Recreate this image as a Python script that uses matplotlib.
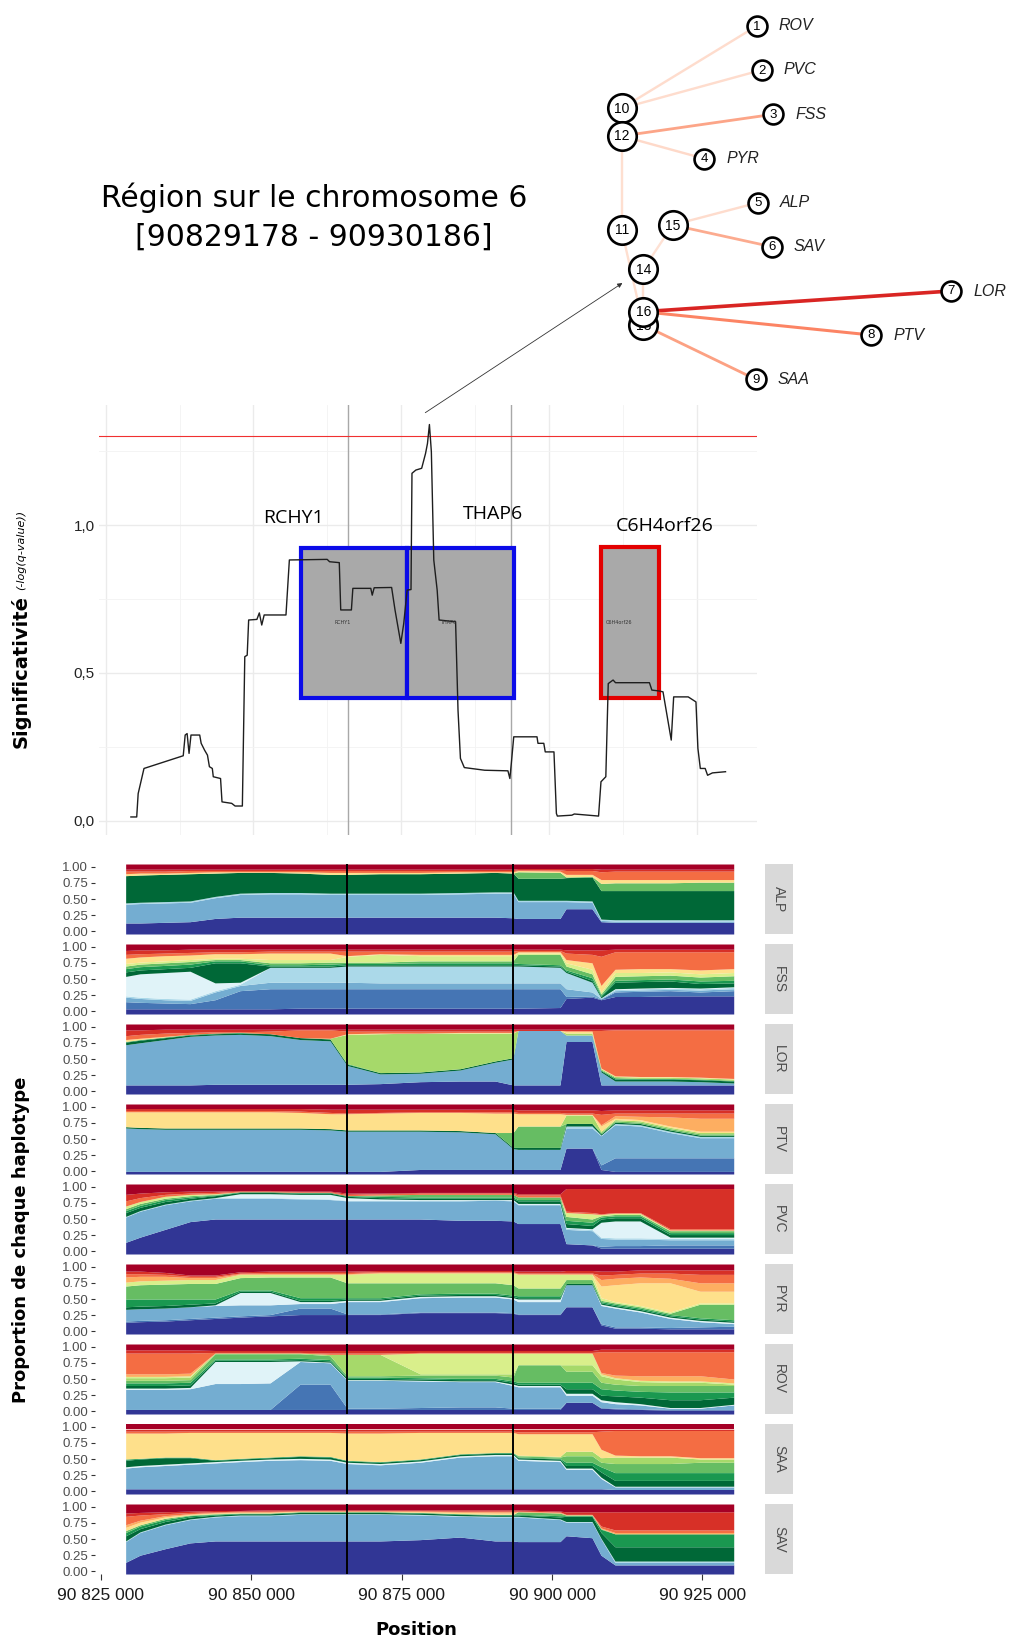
import numpy as np
import matplotlib
matplotlib.use("Agg")
import matplotlib.pyplot as plt
from matplotlib.patches import Rectangle, ConnectionPatch
from matplotlib import font_manager as fm

W, H = 1033, 1636
_avail = {f.name for f in fm.fontManager.ttflist}
NARROW = "Liberation Sans Narrow" if "Liberation Sans Narrow" in _avail else "Liberation Sans"

# ------------------------------------------------------------------ data
scan_pos = [90829262, 90830246, 90830492, 90831476, 90838115, 90838443, 90838771, 90839099,
            90839427, 90840902, 90841148, 90841722, 90842214, 90842542, 90843033, 90843197,
            90844427, 90844673, 90846312, 90846886, 90848116, 90848526, 90848935, 90849181,
            90850575, 90850985, 90851395, 90851804, 90855493, 90856067, 90862460, 90862870,
            90864510, 90864755, 90866559, 90866805, 90869838, 90870084, 90870412, 90873363,
            90873937, 90874921, 90875412, 90875986, 90876642, 90876806, 90877462, 90878446,
            90879100, 90879428, 90879756, 90880084, 90880494, 90881068, 90881396, 90884183,
            90884593, 90885003, 90885659, 90889101, 90893036, 90893364, 90893610, 90894020,
            90897954, 90898118, 90899102, 90899348, 90900823, 90901233, 90901397, 90903856,
            90904266, 90908365, 90908775, 90909594, 90910004, 90910824, 90911234, 90916972,
            90917382, 90918612, 90919268, 90920661, 90921071, 90923530, 90924841, 90925169,
            90925579, 90926399, 90926809, 90927629, 90929842]
scan_val = [0.013, 0.013, 0.092, 0.177, 0.220, 0.290, 0.295, 0.228,
            0.290, 0.290, 0.262, 0.239, 0.222, 0.183, 0.177, 0.149,
            0.143, 0.064, 0.059, 0.050, 0.050, 0.555, 0.560, 0.679,
            0.681, 0.703, 0.662, 0.696, 0.696, 0.882, 0.884, 0.876,
            0.873, 0.713, 0.713, 0.786, 0.786, 0.763, 0.788, 0.789,
            0.713, 0.600, 0.667, 0.780, 0.782, 1.175, 1.186, 1.192,
            1.242, 1.276, 1.340, 1.248, 0.882, 0.780, 0.679, 0.673,
            0.374, 0.211, 0.180, 0.171, 0.169, 0.143, 0.194, 0.284,
            0.284, 0.262, 0.262, 0.233, 0.233, 0.025, 0.016, 0.019,
            0.023, 0.016, 0.132, 0.149, 0.464, 0.476, 0.467, 0.467,
            0.442, 0.439, 0.436, 0.273, 0.419, 0.419, 0.402, 0.245,
            0.177, 0.177, 0.154, 0.162, 0.166]
threshold = 1.30103

genes = ["RCHY1", "THAP6", "C6H4orf26"]
gene_start = [90858119, 90875998, 90908779]
gene_end = [90875998, 90894029, 90918623]
gene_low = [0.414, 0.414, 0.414]
gene_high = [0.921, 0.921, 0.927]
gene_edge = ["#0B0BE8", "#0B0BE8", "#E30000"]
gene_label_pos = [90856682, 90890503, 90919537]
gene_label_val = [1.024, 1.037, 0.998]
gene_small_pos = [90865169, 90882899, 90911824]
gene_small_val = [0.672, 0.672, 0.672]
marker_lines = [90866000, 90893500]

region_start, region_end = 90829178, 90930186

knots = [90829178, 90831561, 90835714, 90839867, 90844020, 90848172, 90853156, 90858139,
         90863122, 90865946, 90871428, 90878072, 90884717, 90890530, 90893520, 90894351,
         90901328, 90902324, 90906643, 90908138, 90910464, 90914616, 90919600, 90924583,
         90930186]

layer_order = ["navy", "blue", "mblue", "lblue", "vlblue", "dgreen", "green", "mgreen",
               "lgreen", "ygreen", "yellow", "lorange", "orange", "red", "dred"]
layer_colors = ["#313695", "#4575B4", "#74ADD1", "#ABD9E9", "#E0F3F8", "#006837", "#1A9850",
                "#66BD63", "#A6D96A", "#D9EF8B", "#FEE08B", "#FDAE61", "#F46D43", "#D73027",
                "#A50026"]

populations = ["ALP", "FSS", "LOR", "PTV", "PVC", "PYR", "ROV", "SAA", "SAV"]

# cumulative upper edge (%) of each haplotype layer at every knot
ALP = {
    "navy":   [13, 13, 14, 15, 20, 22, 22, 22, 22, 22, 22, 22, 22, 22, 21, 20, 20, 35, 35, 15, 14, 14, 14, 14, 14],
    "mblue":  [42, 43, 44, 45, 52, 57, 58, 58, 57, 57, 57, 57, 58, 59, 59, 46, 46, 46, 45, 17, 16, 16, 16, 16, 16],
    "lblue":  [44, 45, 46, 47, 54, 59, 60, 60, 59, 59, 59, 59, 60, 61, 61, 48, 48, 48, 47, 19, 18, 18, 18, 18, 18],
    "dgreen": [86, 87, 88, 89, 90, 91, 91, 90, 88, 88, 89, 89, 90, 91, 90, 82, 82, 83, 84, 63, 63, 63, 63, 63, 63],
    "mgreen": [86, 87, 88, 89, 90, 91, 91, 90, 88, 88, 89, 89, 90, 91, 90, 92, 91, 84, 85, 74, 75, 75, 75, 76, 76],
    "yellow": [89, 90, 90, 91, 92, 92, 92, 92, 91, 91, 91, 91, 92, 92, 92, 94, 93, 88, 88, 80, 80, 80, 80, 80, 80],
    "orange": [93, 93, 93, 94, 94, 94, 94, 94, 94, 94, 94, 94, 94, 94, 94, 95, 95, 94, 94, 92, 93, 93, 93, 93, 93],
    "red":    [96, 96, 96, 96, 96, 96, 96, 96, 96, 96, 96, 96, 96, 96, 96, 97, 97, 97, 97, 96, 96, 96, 96, 96, 96],
}
FSS = {
    "navy":   [4, 4, 4, 4, 4, 4, 4, 5, 5, 5, 5, 5, 5, 5, 5, 5, 6, 20, 22, 18, 23, 23, 24, 24, 24],
    "blue":   [15, 14, 13, 12, 18, 32, 35, 35, 35, 35, 35, 35, 35, 35, 35, 35, 35, 23, 24, 19, 30, 31, 32, 30, 32],
    "mblue":  [22, 20, 18, 17, 30, 40, 45, 45, 45, 45, 44, 44, 44, 44, 44, 44, 44, 35, 30, 20, 32, 33, 34, 33, 35],
    "lblue":  [24, 22, 20, 19, 32, 42, 68, 68, 68, 70, 70, 70, 70, 70, 70, 70, 68, 60, 45, 21, 34, 35, 36, 35, 37],
    "vlblue": [54, 58, 60, 62, 44, 45, 68, 68, 68, 70, 70, 70, 70, 70, 70, 70, 68, 60, 45, 21, 35, 36, 37, 36, 38],
    "dgreen": [61, 64, 66, 68, 75, 75, 70, 70, 70, 72, 72, 72, 72, 72, 72, 72, 70, 62, 48, 23, 45, 46, 47, 43, 44],
    "green":  [66, 69, 71, 73, 78, 78, 72, 72, 73, 74, 74, 75, 75, 75, 75, 74, 72, 64, 52, 25, 48, 49, 50, 47, 48],
    "mgreen": [70, 73, 75, 77, 80, 80, 75, 75, 76, 76, 76, 78, 78, 78, 78, 88, 88, 70, 58, 27, 54, 55, 56, 53, 55],
    "ygreen": [74, 76, 78, 80, 82, 82, 80, 80, 80, 85, 88, 86, 86, 86, 86, 90, 90, 75, 65, 30, 60, 60, 61, 58, 60],
    "yellow": [82, 84, 86, 87, 89, 89, 90, 90, 90, 86, 89, 88, 88, 88, 88, 92, 92, 80, 75, 40, 65, 66, 66, 64, 66],
    "orange": [88, 89, 90, 91, 92, 92, 93, 93, 93, 93, 93, 93, 93, 93, 93, 94, 94, 90, 88, 85, 92, 92, 92, 92, 92],
    "red":    [94, 95, 95, 96, 96, 96, 96, 96, 96, 96, 96, 96, 96, 96, 96, 96, 96, 95, 95, 95, 96, 96, 96, 96, 96],
}
LOR = {
    "navy":   [10, 10, 10, 10, 11, 11, 11, 11, 11, 11, 12, 15, 16, 16, 10, 10, 10, 77, 77, 10, 10, 10, 10, 10, 10],
    "mblue":  [72, 75, 80, 85, 87, 88, 86, 80, 78, 40, 27, 28, 33, 45, 50, 94, 94, 87, 87, 30, 16, 16, 16, 15, 13],
    "dgreen": [76, 79, 83, 87, 89, 90, 89, 83, 81, 42, 29, 30, 35, 47, 52, 94, 94, 87, 87, 32, 19, 19, 19, 18, 16],
    "green":  [77, 80, 84, 88, 90, 91, 89, 83, 81, 43, 29, 30, 35, 47, 52, 94, 94, 87, 87, 33, 21, 20, 20, 19, 17],
    "lgreen": [77, 80, 84, 88, 90, 91, 89, 83, 82, 88, 89, 90, 90, 90, 90, 94, 94, 90, 90, 35, 23, 22, 22, 21, 19],
    "yellow": [80, 82, 85, 88, 90, 91, 89, 83, 82, 89, 90, 90, 91, 91, 91, 94, 94, 93, 93, 36, 24, 23, 23, 22, 20],
    "orange": [86, 88, 90, 91, 92, 92, 93, 95, 95, 93, 93, 93, 93, 93, 93, 94, 94, 94, 94, 94, 95, 95, 95, 95, 95],
    "red":    [95, 95, 96, 96, 96, 96, 96, 96, 96, 96, 96, 96, 96, 96, 96, 96, 96, 96, 96, 96, 96, 96, 96, 96, 96],
}
PTV = {
    "navy":    [0, 0, 0, 0, 0, 0, 0, 0, 0, 0, 0, 3, 3, 3, 3, 3, 3, 36, 36, 3, 0, 0, 0, 0, 0],
    "blue":    [0, 0, 0, 0, 0, 0, 0, 0, 0, 0, 0, 3, 3, 3, 3, 3, 3, 36, 36, 10, 21, 21, 21, 21, 21],
    "mblue":   [67, 66, 65, 65, 65, 65, 65, 65, 64, 62, 62, 62, 61, 58, 35, 34, 34, 67, 67, 55, 72, 70, 60, 52, 52],
    "lblue":   [67, 66, 65, 65, 65, 65, 65, 65, 64, 62, 62, 62, 61, 58, 35, 34, 34, 70, 70, 56, 74, 72, 62, 54, 54],
    "dgreen":  [69, 68, 67, 67, 67, 67, 67, 67, 66, 64, 64, 64, 63, 60, 37, 37, 37, 74, 74, 58, 76, 74, 64, 56, 56],
    "mgreen":  [69, 68, 67, 67, 67, 67, 67, 67, 66, 64, 64, 64, 63, 60, 60, 70, 70, 74, 74, 60, 78, 76, 66, 58, 58],
    "lgreen":  [69, 68, 67, 67, 67, 67, 67, 67, 66, 64, 64, 64, 63, 60, 60, 70, 70, 87, 87, 62, 80, 78, 68, 60, 60],
    "yellow":  [92, 92, 92, 92, 92, 92, 92, 91, 89, 89, 90, 91, 91, 90, 90, 89, 89, 88, 88, 70, 82, 80, 70, 62, 62],
    "lorange": [92, 92, 92, 92, 92, 92, 92, 91, 89, 89, 90, 91, 91, 90, 90, 89, 89, 88, 88, 72, 86, 85, 84, 82, 82],
    "orange":  [94, 94, 94, 94, 94, 94, 94, 93, 91, 90, 91, 92, 92, 92, 92, 91, 91, 90, 90, 88, 90, 90, 90, 90, 90],
    "red":     [97, 97, 97, 97, 97, 97, 97, 97, 96, 96, 96, 96, 96, 96, 96, 95, 95, 95, 95, 94, 95, 95, 95, 95, 95],
}
PVC = {
    "navy":   [14, 22, 34, 46, 50, 50, 50, 50, 50, 50, 50, 50, 48, 48, 47, 43, 43, 12, 10, 5, 5, 5, 5, 5, 5],
    "blue":   [14, 22, 34, 46, 50, 50, 50, 50, 50, 50, 50, 50, 48, 48, 47, 43, 43, 12, 10, 8, 9, 9, 10, 10, 10],
    "mblue":  [53, 62, 72, 78, 82, 82, 82, 81, 80, 78, 78, 78, 78, 79, 78, 72, 72, 34, 32, 20, 19, 19, 18, 18, 18],
    "lblue":  [54, 63, 73, 79, 83, 83, 83, 82, 81, 79, 79, 79, 79, 80, 79, 73, 73, 36, 34, 22, 21, 21, 20, 20, 20],
    "vlblue": [54, 63, 73, 79, 83, 89, 89, 88, 88, 83, 81, 80, 80, 80, 80, 74, 74, 37, 35, 45, 47, 47, 22, 22, 22],
    "dgreen": [60, 68, 77, 82, 86, 91, 91, 90, 90, 85, 83, 82, 82, 82, 82, 78, 78, 43, 40, 50, 52, 52, 26, 26, 26],
    "green":  [63, 71, 80, 84, 87, 92, 92, 91, 91, 86, 85, 84, 84, 84, 84, 80, 80, 48, 45, 53, 55, 55, 29, 29, 29],
    "mgreen": [66, 74, 82, 86, 88, 92, 92, 91, 91, 86, 87, 88, 88, 88, 88, 84, 84, 54, 50, 55, 57, 57, 32, 32, 32],
    "ygreen": [70, 77, 85, 88, 89, 92, 92, 91, 91, 86, 87, 88, 88, 88, 88, 84, 84, 60, 58, 57, 59, 59, 33, 33, 33],
    "orange": [78, 83, 88, 90, 91, 93, 93, 92, 92, 88, 89, 90, 90, 90, 90, 87, 87, 62, 60, 58, 60, 60, 35, 35, 35],
    "red":    [88, 90, 92, 93, 93, 94, 94, 93, 93, 90, 90, 91, 91, 91, 91, 89, 89, 97, 97, 97, 97, 97, 97, 97, 97],
}
PYR = {
    "navy":    [14, 15, 16, 18, 20, 22, 24, 26, 26, 26, 26, 29, 29, 29, 28, 26, 26, 38, 38, 10, 5, 5, 4, 4, 4],
    "blue":    [16, 17, 18, 20, 22, 24, 26, 36, 36, 27, 27, 30, 30, 30, 29, 27, 27, 38, 38, 12, 7, 7, 6, 7, 8],
    "mblue":   [34, 35, 36, 38, 40, 41, 41, 43, 43, 46, 46, 52, 53, 53, 50, 46, 46, 72, 72, 40, 36, 30, 20, 15, 12],
    "vlblue":  [34, 35, 36, 38, 41, 60, 60, 46, 46, 48, 48, 54, 55, 55, 52, 50, 50, 72, 72, 42, 38, 32, 22, 17, 14],
    "dgreen":  [38, 39, 40, 42, 44, 62, 62, 48, 48, 50, 50, 56, 57, 57, 54, 52, 52, 74, 74, 44, 40, 34, 24, 19, 16],
    "green":   [50, 50, 50, 50, 50, 64, 64, 52, 52, 52, 52, 58, 59, 59, 56, 55, 55, 74, 74, 46, 42, 36, 26, 21, 18],
    "mgreen":  [70, 72, 73, 74, 74, 83, 84, 84, 84, 75, 75, 75, 75, 75, 72, 67, 67, 80, 80, 48, 44, 38, 28, 42, 42],
    "ygreen":  [76, 78, 79, 80, 80, 88, 88, 88, 88, 88, 90, 90, 90, 90, 90, 88, 88, 88, 88, 52, 46, 40, 30, 44, 44],
    "yellow":  [76, 78, 79, 80, 80, 88, 88, 88, 88, 88, 90, 90, 90, 90, 90, 88, 88, 88, 88, 70, 72, 75, 75, 62, 62],
    "lorange": [84, 85, 85, 83, 83, 89, 89, 89, 89, 89, 91, 91, 91, 91, 91, 89, 89, 89, 89, 80, 82, 84, 82, 75, 75],
    "orange":  [89, 89, 88, 85, 85, 90, 91, 91, 91, 91, 92, 92, 92, 92, 92, 90, 90, 90, 90, 87, 88, 90, 90, 88, 88],
    "red":     [93, 93, 91, 87, 87, 92, 93, 93, 93, 93, 94, 94, 94, 94, 94, 93, 93, 94, 94, 93, 93, 95, 95, 95, 95],
}
ROV = {
    "navy":    [3, 3, 3, 3, 3, 3, 3, 3, 3, 3, 3, 3, 3, 3, 3, 3, 3, 14, 14, 5, 4, 3, 2, 2, 2],
    "blue":    [3, 3, 3, 3, 3, 3, 3, 42, 42, 5, 5, 6, 7, 7, 5, 5, 5, 14, 14, 6, 5, 4, 3, 3, 3],
    "mblue":   [34, 34, 34, 35, 43, 43, 44, 77, 75, 48, 48, 47, 46, 46, 40, 38, 38, 25, 25, 15, 12, 10, 5, 5, 10],
    "vlblue":  [36, 36, 36, 37, 77, 77, 77, 78, 76, 49, 49, 48, 47, 47, 42, 40, 40, 28, 28, 18, 15, 12, 6, 6, 11],
    "dgreen":  [40, 40, 40, 41, 79, 79, 79, 80, 78, 51, 51, 50, 49, 49, 45, 42, 42, 35, 35, 25, 24, 22, 18, 18, 22],
    "green":   [44, 44, 44, 45, 81, 81, 81, 82, 80, 53, 53, 52, 51, 51, 47, 45, 45, 45, 45, 35, 33, 31, 30, 30, 30],
    "mgreen":  [48, 48, 48, 49, 89, 89, 89, 89, 86, 55, 55, 56, 56, 56, 53, 72, 72, 62, 62, 45, 42, 40, 40, 40, 40],
    "lgreen":  [52, 52, 52, 53, 90, 90, 90, 90, 88, 88, 88, 58, 58, 58, 58, 72, 72, 72, 72, 55, 50, 46, 45, 45, 42],
    "ygreen":  [54, 54, 54, 55, 90, 90, 90, 90, 88, 88, 88, 90, 90, 90, 90, 90, 90, 90, 90, 58, 52, 48, 47, 47, 44],
    "lorange": [58, 58, 58, 59, 90, 90, 90, 90, 88, 88, 88, 90, 90, 90, 90, 90, 90, 90, 90, 60, 56, 55, 55, 55, 50],
    "orange":  [90, 90, 90, 90, 91, 91, 91, 91, 90, 90, 90, 91, 91, 91, 91, 91, 91, 91, 91, 92, 92, 92, 92, 92, 92],
    "red":     [95, 95, 95, 95, 94, 94, 94, 94, 94, 94, 94, 94, 94, 94, 94, 94, 94, 94, 94, 96, 96, 96, 96, 96, 96],
}
SAA = {
    "navy":   [4, 4, 4, 4, 4, 4, 4, 4, 4, 4, 4, 4, 4, 4, 4, 4, 4, 4, 4, 4, 3, 3, 3, 3, 3],
    "mblue":  [36, 38, 40, 42, 44, 46, 48, 49, 48, 43, 41, 45, 53, 55, 55, 48, 46, 34, 34, 20, 7, 7, 7, 7, 7],
    "vlblue": [38, 40, 42, 44, 46, 48, 50, 51, 50, 45, 43, 47, 55, 57, 57, 50, 48, 36, 36, 22, 8, 8, 8, 8, 8],
    "dgreen": [48, 50, 52, 52, 48, 50, 52, 54, 53, 47, 45, 49, 57, 59, 59, 52, 50, 40, 40, 30, 17, 17, 17, 17, 17],
    "green":  [50, 51, 53, 53, 49, 51, 53, 55, 54, 48, 46, 50, 58, 60, 60, 53, 51, 45, 45, 38, 29, 29, 29, 29, 29],
    "mgreen": [50, 51, 53, 53, 49, 51, 53, 55, 54, 48, 46, 50, 58, 60, 60, 55, 53, 55, 55, 45, 43, 43, 43, 45, 45],
    "lgreen": [50, 51, 53, 53, 49, 51, 53, 55, 54, 48, 46, 50, 58, 60, 60, 56, 54, 62, 62, 52, 53, 53, 53, 50, 50],
    "yellow": [90, 90, 90, 91, 91, 91, 91, 91, 91, 90, 90, 91, 91, 91, 91, 89, 89, 89, 89, 65, 56, 55, 55, 52, 52],
    "orange": [93, 93, 93, 93, 93, 93, 93, 93, 93, 93, 93, 93, 93, 93, 93, 92, 92, 92, 92, 93, 94, 94, 94, 94, 94],
    "red":    [96, 96, 96, 96, 96, 96, 96, 96, 96, 96, 96, 96, 96, 96, 96, 96, 96, 96, 96, 96, 96, 96, 96, 96, 96],
}
SAV = {
    "navy":    [14, 25, 35, 44, 47, 47, 47, 47, 47, 47, 47, 49, 53, 47, 47, 46, 46, 55, 52, 25, 10, 10, 10, 10, 10],
    "mblue":   [46, 60, 72, 80, 84, 86, 86, 88, 88, 88, 88, 87, 85, 84, 84, 84, 80, 76, 76, 50, 14, 14, 14, 14, 14],
    "lblue":   [47, 61, 73, 81, 85, 87, 87, 89, 89, 89, 89, 88, 86, 85, 85, 85, 81, 77, 77, 51, 16, 16, 16, 16, 16],
    "dgreen":  [55, 66, 77, 84, 87, 89, 89, 91, 91, 91, 91, 90, 88, 87, 87, 87, 84, 85, 85, 60, 38, 38, 38, 38, 38],
    "green":   [60, 70, 80, 86, 88, 90, 90, 92, 92, 92, 92, 91, 89, 88, 88, 88, 86, 86, 86, 65, 58, 58, 58, 58, 58],
    "mgreen":  [63, 72, 82, 87, 89, 90, 90, 92, 92, 92, 92, 91, 89, 88, 88, 92, 90, 87, 87, 66, 58, 58, 58, 58, 58],
    "yellow":  [68, 76, 84, 88, 90, 91, 91, 93, 93, 93, 93, 92, 91, 90, 90, 92, 90, 87, 87, 66, 58, 58, 58, 58, 58],
    "lorange": [72, 79, 86, 89, 91, 92, 92, 93, 93, 93, 93, 93, 92, 92, 92, 93, 91, 88, 88, 67, 60, 60, 60, 60, 60],
    "orange":  [85, 87, 89, 91, 92, 93, 93, 94, 94, 94, 94, 94, 93, 93, 93, 93, 92, 88, 88, 70, 64, 64, 64, 64, 64],
    "red":     [90, 91, 92, 93, 94, 94, 95, 95, 95, 95, 95, 95, 95, 95, 95, 95, 93, 92, 92, 92, 92, 92, 92, 92, 92],
}
panel_data = [ALP, FSS, LOR, PTV, PVC, PYR, ROV, SAA, SAV]

# tree (layout coordinates, pixels of the original figure)
tree_ids = [1, 2, 3, 4, 5, 6, 7, 8, 9, 10, 11, 12, 13, 14, 15, 16]
tree_x = [756.7, 761.7, 773.3, 704.3, 757.7, 771.7, 951.0, 871.0, 755.7,
          621.7, 621.7, 621.7, 643.3, 643.3, 672.7, 643.3]
tree_y = [26.0, 70.0, 114.3, 158.7, 202.7, 246.7, 291.0, 335.0, 379.3,
          108.3, 230.0, 136.0, 325.0, 269.3, 225.0, 311.7]
leaf_names = ["ROV", "PVC", "FSS", "PYR", "ALP", "SAV", "LOR", "PTV", "SAA"]
edge_from = [10, 10, 12, 12, 12, 11, 14, 14, 15, 15, 16, 16, 13]
edge_to = [1, 2, 3, 4, 11, 13, 15, 16, 5, 6, 7, 8, 9]
edge_weight = [0.14, 0.14, 0.32, 0.15, 0.13, 0.13, 0.12, 0.13, 0.14, 0.30, 0.70, 0.42, 0.33]

# ------------------------------------------------------------------ figure
fig = plt.figure(figsize=(W / 100, H / 100), dpi=100)
fig.patch.set_facecolor("white")


def add_px_axes(left, top, right, bottom, **kw):
    return fig.add_axes([left / W, 1 - bottom / H, (right - left) / W, (bottom - top) / H], **kw)


# ---- significance scan
ax = add_px_axes(99, 405, 757, 835)
ax.set_xlim(90823867, 90935166)
ax.set_ylim(-0.048, 1.406)
for s in ax.spines.values():
    s.set_visible(False)
ax.set_yticks([0, 0.5, 1.0])
ax.set_yticklabels(["0,0", "0,5", "1,0"], fontsize=11, family=NARROW, color="#222222")
ax.set_yticks([0.25, 0.75, 1.25], minor=True)
ax.set_xticks(np.arange(90825000, 90935000, 25000))
ax.set_xticks(np.arange(90837500, 90935000, 25000), minor=True)
ax.tick_params(axis="both", which="both", length=0, pad=3)
ax.tick_params(axis="x", labelbottom=False)
ax.grid(True, which="major", color="#EBEBEB", lw=1.0)
ax.grid(True, which="minor", color="#F3F3F3", lw=0.6)
ax.set_axisbelow(True)
for m in marker_lines:
    ax.axvline(m, color="#A8A8A8", lw=1.0, zorder=1)
ax.axhline(threshold, color="#F03030", lw=0.8, zorder=2)
for g, s0, s1, lo, hi, ec, lx, ly, sx, sy in zip(genes, gene_start, gene_end, gene_low, gene_high,
                                                  gene_edge, gene_label_pos, gene_label_val,
                                                  gene_small_pos, gene_small_val):
    ax.add_patch(Rectangle((s0, lo), s1 - s0, hi - lo, facecolor="#A9A9A9", edgecolor=ec,
                           lw=3.0, zorder=3))
    ax.text(lx, ly, g, fontsize=14, family="Open Sans", ha="center", va="center", zorder=5)
    ax.text(sx, sy, g, fontsize=3.5, ha="center", va="center", color="#333333", zorder=5)
ax.plot(scan_pos, scan_val, color="#1E1E1E", lw=1.0, zorder=4)

# ---- haplotype panels
panel_top0 = 864
panel_step = 80
panel_h = 70
for i, (pop, dat) in enumerate(zip(populations, panel_data)):
    top = panel_top0 + i * panel_step
    pax = add_px_axes(95, top, 764, top + panel_h)
    pax.set_xlim(90824086, 90935216)
    pax.set_ylim(-0.04, 1.04)
    for s in pax.spines.values():
        s.set_visible(False)
    xs = np.array(knots, dtype=float)
    lower = np.full(len(knots), -0.04)
    for name, col in zip(layer_order, layer_colors):
        if name == "dred":
            upper = np.full(len(knots), 1.04)
        elif name in dat:
            upper = np.array(dat[name], dtype=float) / 100.0
        else:
            continue
        pax.fill_between(xs, lower, upper, color=col, lw=0, zorder=2)
        lower = upper
    for m in marker_lines:
        pax.axvline(m, color="black", lw=1.4, zorder=4)
    pax.set_yticks([0, 0.25, 0.5, 0.75, 1.0])
    pax.set_yticklabels(["0.00", "0.25", "0.50", "0.75", "1.00"], fontsize=9.5,
                        family=NARROW, color="#4D4D4D")
    pax.tick_params(axis="y", length=3, width=0.8, color="#333333", pad=2)
    if i == len(populations) - 1:
        pax.set_xticks([90825000, 90850000, 90875000, 90900000, 90925000])
        pax.set_xticklabels(["90 825 000", "90 850 000", "90 875 000", "90 900 000", "90 925 000"],
                            fontsize=12.5, family=NARROW, color="#1A1A1A")
        pax.tick_params(axis="x", length=4, width=0.8, color="#333333", pad=6)
    else:
        pax.set_xticks([])
    sax = add_px_axes(765, top, 793, top + panel_h)
    sax.set_facecolor("#D9D9D9")
    sax.set_xticks([])
    sax.set_yticks([])
    for s in sax.spines.values():
        s.set_visible(False)
    sax.text(0.5, 0.5, pop, rotation=270, ha="center", va="center", fontsize=10,
             color="#4D4D4D", family="Liberation Sans", transform=sax.transAxes)

# ---- overlay: tree, title, labels
ov = fig.add_axes([0, 0, 1, 1], zorder=10)
ov.set_xlim(0, W)
ov.set_ylim(H, 0)
ov.axis("off")

cmap = plt.get_cmap("Reds")
node_xy = {n: (x, y) for n, x, y in zip(tree_ids, tree_x, tree_y)}
for a, b, w in zip(edge_from, edge_to, edge_weight):
    (x0, y0), (x1, y1) = node_xy[a], node_xy[b]
    ov.plot([x0, x1], [y0, y1], color=cmap(w), lw=1.5 + 1.6 * w, solid_capstyle="butt", zorder=1)

draw_order = [1, 2, 3, 4, 5, 6, 7, 8, 9, 11, 15, 14, 13, 16, 10, 12]
for k, n in enumerate(draw_order):
    x, y = node_xy[n]
    leaf = n <= 9
    ov.scatter([x], [y], s=205 if leaf else 420, facecolor="white", edgecolor="black",
               linewidth=1.9, zorder=3 + k * 0.02)
    ov.text(x, y + 0.5, str(n), ha="center", va="center", fontsize=9.5 if leaf else 10,
            family="Liberation Sans", zorder=3.01 + k * 0.02)
    if leaf:
        ov.text(x + 22, y, leaf_names[n - 1], ha="left", va="center", fontsize=11.5,
                style="italic", family="Liberation Sans", color="#222222", zorder=4)

ov.text(314, 198, "Région sur le chromosome 6", ha="center", va="center", fontsize=21.5,
        family="DejaVu Sans")
ov.text(314, 237, "[90829178 - 90930186]", ha="center", va="center", fontsize=21.5,
        family="DejaVu Sans")

peak_i = int(np.argmax(scan_val))
arrow = ConnectionPatch(xyA=(scan_pos[peak_i] - 700, scan_val[peak_i] + 0.04), coordsA=ax.transData,
                        xyB=node_xy[14], coordsB=ov.transData, arrowstyle="-|>",
                        mutation_scale=7, lw=0.6, color="#333333", shrinkA=0, shrinkB=18)
fig.add_artist(arrow)

ov.text(21, 672, "Significativité", rotation=90, ha="center", va="center", fontsize=14,
        weight="bold", family="DejaVu Sans")
ov.text(21, 550, "(-log(q-value))", rotation=90, ha="center", va="center", fontsize=8,
        style="italic", family="DejaVu Sans")
ov.text(21, 1240, "Proportion de chaque haplotype", rotation=90, ha="center", va="center",
        fontsize=13, weight="bold", family="DejaVu Sans")
ov.text(416, 1630, "Position", ha="center", va="center", fontsize=13, weight="bold",
        family="DejaVu Sans")

fig.savefig("out.png", dpi=100)
